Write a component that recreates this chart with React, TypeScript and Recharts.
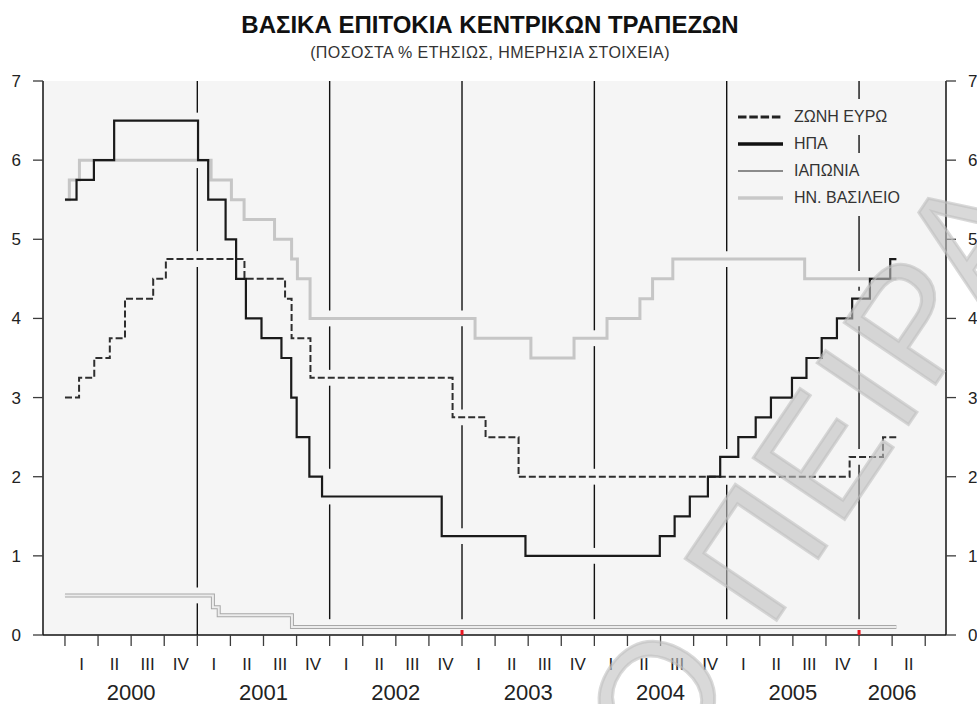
import { LineChart, Line, XAxis, YAxis, CartesianGrid } from 'recharts';

// change dates (rate in force from that day) and rates
const euroDates = ['2000-01-01', '2000-02-09', '2000-03-22', '2000-05-04', '2000-06-15', '2000-09-01', '2000-10-06', '2001-05-11', '2001-08-31', '2001-09-18', '2001-11-09', '2002-12-06', '2003-03-07', '2003-06-06', '2005-12-06', '2006-03-08', '2006-04-14'];
const euroRates = [3.0, 3.25, 3.5, 3.75, 4.25, 4.5, 4.75, 4.5, 4.25, 3.75, 3.25, 2.75, 2.5, 2.0, 2.25, 2.5, 2.5];

const usDates = ['2000-01-01', '2000-02-02', '2000-03-21', '2000-05-16', '2001-01-03', '2001-01-31', '2001-03-20', '2001-04-18', '2001-05-15', '2001-06-27', '2001-08-21', '2001-09-17', '2001-10-02', '2001-11-06', '2001-12-11', '2002-11-06', '2003-06-25', '2004-06-30', '2004-08-10', '2004-09-21', '2004-11-10', '2004-12-14', '2005-02-02', '2005-03-22', '2005-05-03', '2005-06-30', '2005-08-09', '2005-09-20', '2005-11-01', '2005-12-13', '2006-01-31', '2006-03-28', '2006-04-14'];
const usRates = [5.5, 5.75, 6.0, 6.5, 6.0, 5.5, 5.0, 4.5, 4.0, 3.75, 3.5, 3.0, 2.5, 2.0, 1.75, 1.25, 1.0, 1.25, 1.5, 1.75, 2.0, 2.25, 2.5, 2.75, 3.0, 3.25, 3.5, 3.75, 4.0, 4.25, 4.5, 4.75, 4.75];

const japanDates = ['2000-01-01', '2001-02-13', '2001-03-01', '2001-09-19', '2006-04-14'];
const japanRates = [0.5, 0.35, 0.25, 0.1, 0.1];

const ukDates = ['2000-01-01', '2000-01-13', '2000-02-10', '2001-02-08', '2001-04-05', '2001-05-10', '2001-08-02', '2001-09-18', '2001-10-04', '2001-11-08', '2003-02-06', '2003-07-10', '2003-11-06', '2004-02-05', '2004-05-06', '2004-06-10', '2004-08-05', '2005-08-04', '2006-04-14'];
const ukRates = [5.5, 5.75, 6.0, 5.75, 5.5, 5.25, 5.0, 4.75, 4.5, 4.0, 3.75, 3.5, 3.75, 4.0, 4.25, 4.5, 4.75, 4.5, 4.5];

const years = [2000, 2001, 2002, 2003, 2004, 2005, 2006];
const quartersShown = [4, 4, 4, 4, 4, 4, 2];
const quarterLabels = ['I', 'II', 'III', 'IV'];
const yearLines = [2001, 2002, 2003, 2004, 2005, 2006];
const redMarks = [2003, 2006];
const yTicks = [0, 1, 2, 3, 4, 5, 6, 7];

const legendNames = ['ΖΩΝΗ ΕΥΡΩ', 'ΗΠΑ', 'ΙΑΠΩΝΙΑ', 'ΗΝ. ΒΑΣΙΛΕΙΟ'];

const FONT = '"Liberation Sans", Arial, sans-serif';
const BG = '#f5f5f5';
const X_MIN = 1999.834;
const X_MAX = 2006.657;
const Y_MIN = 0;
const Y_MAX = 7;
// the year lines stop short of every series (about 8px each side)
const GAP_T = 0.06;
const GAP_V = 0.1;

function toYear(d: string) {
  const [y, m, dd] = d.split('-').map(Number);
  const start = Date.UTC(y, 0, 1);
  const end = Date.UTC(y + 1, 0, 1);
  return y + (Date.UTC(y, m - 1, dd) - start) / (end - start);
}

function toSeries(dates: string[], rates: number[]) {
  return dates.map((d, i) => ({ t: toYear(d), v: rates[i] }));
}

const euro = toSeries(euroDates, euroRates);
const us = toSeries(usDates, usRates);
const japan = toSeries(japanDates, japanRates);
const uk = toSeries(ukDates, ukRates);

// visible pieces of a year line, i.e. [0,7] minus a band around each series passing near it
function yearPieces(yr: number) {
  const masks: [number, number][] = [];
  [euro, us, japan, uk].forEach((s) => {
    for (let i = 0; i < s.length - 1; i++) {
      const a = s[i];
      const b = s[i + 1];
      if (a.t <= yr + GAP_T && b.t >= yr - GAP_T) masks.push([a.v - GAP_V, a.v + GAP_V]);
      if (Math.abs(b.t - yr) < GAP_T) masks.push([Math.min(a.v, b.v) - GAP_V, Math.max(a.v, b.v) + GAP_V]);
    }
  });
  masks.sort((p, q) => p[0] - q[0]);
  const pieces: [number, number][] = [];
  let cur = Y_MIN;
  masks.forEach(([lo, hi]) => {
    if (lo > cur) pieces.push([cur, lo]);
    cur = Math.max(cur, hi);
  });
  if (cur < Y_MAX) pieces.push([cur, Y_MAX]);
  return pieces.filter(([lo, hi]) => hi - lo > 0.03);
}

const yearLineData = yearLines.flatMap((yr) =>
  yearPieces(yr).map(([lo, hi]) => [
    { t: yr, h: lo },
    { t: yr, h: hi },
  ]),
);

// bottom axis: quarter bounds (tick marks), quarter middles (roman numerals), year middles (years)
type TickInfo = { bound?: boolean; red?: boolean; quarter?: string; year?: string };
const tickInfo: Record<string, TickInfo> = {};
const key = (v: number) => v.toFixed(3);
const addInfo = (v: number, info: TickInfo) => {
  tickInfo[key(v)] = { ...(tickInfo[key(v)] || {}), ...info };
};
years.forEach((yr, i) => {
  const n = quartersShown[i];
  for (let q = 0; q <= n; q++) addInfo(yr + q * 0.25, { bound: true, red: q === 0 && redMarks.includes(yr) });
  for (let q = 0; q < n; q++) addInfo(yr + q * 0.25 + 0.125, { quarter: quarterLabels[q] });
  addInfo(yr + n * 0.125, { year: String(yr) });
});
const xTicks = Object.keys(tickInfo).map(Number).sort((a, b) => a - b);

function XTick(props: any) {
  const { x, y, payload } = props;
  const info = tickInfo[key(payload.value)];
  if (!info) return <g />;
  return (
    <g>
      {info.bound && <line x1={x} x2={x} y1={y} y2={y + 11} stroke="#3c3c3c" strokeWidth={1.3} />}
      {info.red && <rect x={x - 1.5} y={y - 5} width={3} height={5} fill="#e8141e" />}
      {info.quarter && (
        <text x={x} y={y + 34.5} textAnchor="middle" fontSize={17} fill="#222" fontFamily={FONT}>
          {info.quarter}
        </text>
      )}
      {info.year && (
        <text x={x} y={y + 65} textAnchor="middle" fontSize={22} fill="#222" fontFamily={FONT}>
          {info.year}
        </text>
      )}
    </g>
  );
}

function YTick(props: any) {
  const { x, y, payload, side } = props;
  const dir = side === 'left' ? -1 : 1;
  return (
    <g>
      <line x1={x} x2={x + dir * 10} y1={y} y2={y} stroke="#3c3c3c" strokeWidth={1.3} />
      <text
        x={x + dir * 22}
        y={y + 6}
        textAnchor={side === 'left' ? 'end' : 'start'}
        fontSize={17}
        fill="#222"
        fontFamily={FONT}
      >
        {payload.value}
      </text>
    </g>
  );
}

function LegendSample({ i }: { i: number }) {
  const styles = [
    { stroke: '#222', strokeWidth: 3, strokeDasharray: '8.5 2.8' },
    { stroke: '#111', strokeWidth: 3.4 },
    { stroke: '#222', strokeWidth: 1.2 },
    { stroke: '#c8c8c8', strokeWidth: 3.5 },
  ];
  return (
    <svg width={45} height={10} style={{ display: 'block' }}>
      <line x1={0} x2={45} y1={5} y2={5} {...styles[i]} />
    </svg>
  );
}

export default function App() {
  return (
    <div style={{ position: 'absolute', left: 0, top: 0, width: 977, height: 704, background: '#fff', fontFamily: FONT }}>
      <svg width={977} height={70} style={{ position: 'absolute', left: 0, top: 0 }}>
        <text x={490} y={33} textAnchor="middle" fontSize={24} fontWeight="bold" fill="#111" fontFamily={FONT}>
          ΒΑΣΙΚΑ ΕΠΙΤΟΚΙΑ ΚΕΝΤΡΙΚΩΝ ΤΡΑΠΕΖΩΝ
        </text>
        <text x={490} y={58} textAnchor="middle" fontSize={16} letterSpacing={0.4} fill="#333" fontFamily={FONT}>
          (ΠΟΣΟΣΤΑ % ΕΤΗΣΙΩΣ, ΗΜΕΡΗΣΙΑ ΣΤΟΙΧΕΙΑ)
        </text>
      </svg>

      <LineChart width={977} height={704} margin={{ top: 81, right: 0, bottom: 9, left: 0 }} style={{ position: 'absolute', left: 0, top: 0 }}>
        <CartesianGrid fill={BG} fillOpacity={1} horizontal={false} vertical={false} />

        {yearLineData.map((d, i) => (
          <Line
            key={`year-${i}`}
            data={d}
            dataKey="h"
            xAxisId="top"
            yAxisId="right"
            type="linear"
            stroke="#111"
            strokeWidth={1.4}
            dot={false}
            isAnimationActive={false}
          />
        ))}

        <Line data={uk} dataKey="v" type="stepAfter" stroke="#c6c6c6" strokeWidth={3} dot={false} isAnimationActive={false} />
        <Line data={japan} dataKey="v" type="stepAfter" stroke="#a8a8a8" strokeWidth={4} dot={false} isAnimationActive={false} />
        <Line data={japan} dataKey="v" type="stepAfter" stroke="#ececec" strokeWidth={2} dot={false} isAnimationActive={false} />
        <Line data={euro} dataKey="v" type="stepAfter" stroke="#2e2e2e" strokeWidth={2} strokeDasharray="7 3" dot={false} isAnimationActive={false} />
        <Line data={us} dataKey="v" type="stepAfter" stroke="#1a1a1a" strokeWidth={2.2} dot={false} isAnimationActive={false} />

        <XAxis
          dataKey="t"
          type="number"
          domain={[X_MIN, X_MAX]}
          ticks={xTicks}
          interval={0}
          tickLine={false}
          tickSize={0}
          tickMargin={0}
          height={60}
          axisLine={{ stroke: '#111', strokeWidth: 1.5 }}
          tick={(p: any) => <XTick {...p} />}
        />
        <XAxis
          xAxisId="top"
          orientation="top"
          dataKey="t"
          type="number"
          domain={[X_MIN, X_MAX]}
          height={0}
          tick={false}
          tickLine={false}
          axisLine={{ stroke: '#111', strokeWidth: 1.5 }}
        />
        <YAxis
          type="number"
          domain={[Y_MIN, Y_MAX]}
          ticks={yTicks}
          interval={0}
          width={43}
          tickLine={false}
          tickSize={0}
          tickMargin={0}
          axisLine={{ stroke: '#111', strokeWidth: 1.5 }}
          tick={(p: any) => <YTick {...p} side="left" />}
        />
        <YAxis
          yAxisId="right"
          orientation="right"
          type="number"
          domain={[Y_MIN, Y_MAX]}
          ticks={yTicks}
          interval={0}
          width={31}
          tickLine={false}
          tickSize={0}
          tickMargin={0}
          axisLine={{ stroke: '#111', strokeWidth: 1.5 }}
          tick={(p: any) => <YTick {...p} side="right" />}
        />
      </LineChart>

      <div style={{ position: 'absolute', left: 738, top: 103, fontSize: 16, color: '#333' }}>
        {legendNames.map((name, i) => (
          <div key={name} style={{ display: 'flex', alignItems: 'center', height: 27 }}>
            <LegendSample i={i} />
            <span style={{ marginLeft: 11, background: BG, padding: '10px 4px 10px 0', lineHeight: '16px', whiteSpace: 'nowrap' }}>
              {name}
            </span>
          </div>
        ))}
      </div>

      <svg width={977} height={704} style={{ position: 'absolute', left: 0, top: 0, pointerEvents: 'none' }}>
        <text
          x={668}
          y={781}
          transform="rotate(-56 668 781)"
          fontSize={160}
          letterSpacing={6}
          fill="#c0c0c0"
          fillOpacity={0.6}
          stroke="#c0c0c0"
          strokeOpacity={0.6}
          strokeWidth={3}
          fontFamily={FONT}
        >
          Ο ΠΕΙΡΑ
        </text>
      </svg>
    </div>
  );
}
